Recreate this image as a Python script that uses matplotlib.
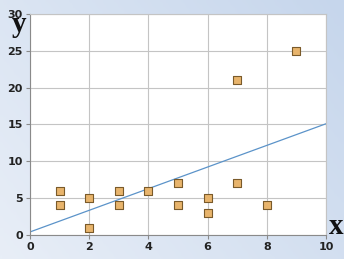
import matplotlib.pyplot as plt
import numpy as np

x = [1, 1, 2, 2, 3, 3, 4, 5, 5, 6, 6, 7, 7, 8, 9]
y = [6, 4, 5, 1, 6, 4, 6, 7, 4, 5, 3, 21, 7, 4, 25]
line_x = [0, 10]
line_y = [0.4, 15.1]

fig = plt.figure(figsize=(3.44, 2.59), dpi=100)

# gradient background
bg = fig.add_axes([0, 0, 1, 1], zorder=-1)
gx, gy = np.meshgrid(np.linspace(0, 1, 100), np.linspace(0, 1, 100))
g = 0.5 * gx + 0.3 * (1 - gy)
bg.imshow(g, cmap=plt.cm.colors.LinearSegmentedColormap.from_list('b', ['#e8eef7', '#c6d6ec']),
          aspect='auto', extent=[0, 1, 0, 1])
bg.axis('off')

ax = fig.add_axes([0.087, 0.093, 0.861, 0.853])
ax.set_facecolor('white')
ax.plot(line_x, line_y, color='#5b93c9', lw=0.9, zorder=2)
ax.scatter(x, y, marker='s', s=28, color='#e8b46c', edgecolor='#7a5a2a', lw=0.8, zorder=3)

ax.set_xlim(0, 10)
ax.set_ylim(0, 30)
ax.set_xticks(range(0, 11, 2))
ax.set_yticks(range(0, 31, 5))
ax.grid(True, color='#c4c4c4', lw=0.8)
ax.set_axisbelow(True)
for s in ['top', 'right']:
    ax.spines[s].set_color('#c4c4c4')
for s in ['left', 'bottom']:
    ax.spines[s].set_color('#8a8a8a')
ax.tick_params(colors='#8a8a8a', labelcolor='#222222', labelsize=8, length=3, pad=2)
for t in ax.get_xticklabels() + ax.get_yticklabels():
    t.set_fontweight('bold')

fig.text(0.055, 0.905, 'y', fontsize=21, fontweight='bold', family='Liberation Serif',
         ha='center', va='center', color='#111111')
fig.text(0.978, 0.125, 'x', fontsize=21, fontweight='bold', family='Liberation Serif',
         ha='center', va='center', color='#111111')

fig.savefig('out.png', dpi=100)
